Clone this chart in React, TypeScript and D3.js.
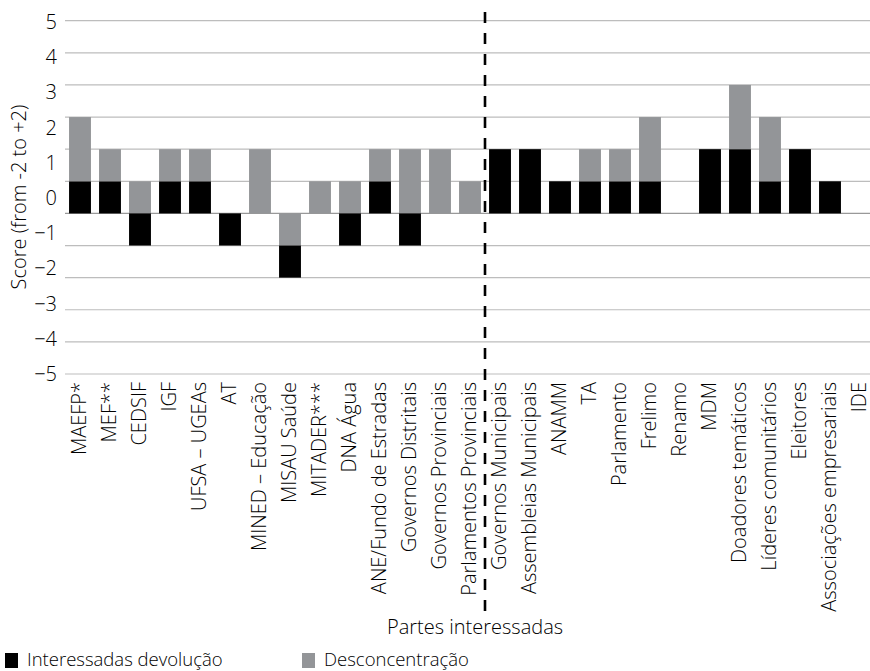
import { useEffect, useRef } from "react"
import * as d3 from "d3"

const categories = [
    "MAEFP*", "MEF**", "CEDSIF", "IGF", "UFSA – UGEAs", "AT", "MINED – Educação",
    "MISAU Saúde", "MITADER***", "DNA Água", "ANE/Fundo de Estradas", "Governos Distritais",
    "Governos Provinciais", "Parlamentos Provinciais", "Governos Municipais",
    "Assembleias Municipais", "ANAMM", "TA", "Parlamento", "Frelimo", "Renamo", "MDM",
    "Doadores temáticos", "Líderes comunitários", "Eleitores", "Associações empresariais", "IDE",
]
// Interessadas devolução (black)
const devolucao = [1, 1, -1, 1, 1, -1, 0, -1, 0, -1, 1, -1, 0, 0, 2, 2, 1, 1, 1, 1, 0, 2, 2, 1, 2, 1, 0]
// Desconcentração (grey)
const desconcentracao = [2, 1, 1, 1, 1, 0, 2, -1, 1, 1, 1, 2, 2, 1, 0, 0, 0, 1, 1, 2, 0, 0, 2, 2, 0, 0, 0]
const tickLabels = [5, 4, 3, 2, 1, 0, -1, -2, -3, -4, -5]
const gridValues = [6, 5, 4, 3, 2, 1, 0, -1, -2, -3, -4, -5]

const FONT = "'Open Sans', 'Noto Sans', sans-serif"
const FW = 300
const FS = 20
const TXT = "#000"
const GREY = "#939598"

export default function App() {
    const svgRef = useRef<SVGSVGElement>(null)
    const width = 870
    const height = 671

    useEffect(() => {
        const svg = d3.select(svgRef.current)
        svg.selectAll("*").remove()

        const x = d3.scaleBand<string>()
            .domain(categories)
            .range([65, 875])
            .paddingInner(0.27)
            .paddingOuter(0.135)

        // bars/gridlines
        const y = d3.scaleLinear().domain([-5, 6]).range([374, 20.7])
        // tick labels sit on their own spacing, as in the original
        const yLab = d3.scaleLinear().domain([-5, 5]).range([374, 22])

        const txt = (sel: any, size = FS) => sel
            .attr("font-family", FONT)
            .attr("font-weight", FW)
            .attr("font-size", size)
            .attr("fill", TXT)

        svg.append("g").selectAll("line")
            .data(gridValues)
            .join("line")
            .attr("x1", 65).attr("x2", 870)
            .attr("y1", d => y(d)).attr("y2", d => y(d))
            .attr("stroke", d => d === 0 ? "#999" : "#bdbdbd")
            .attr("stroke-width", 1.2)

        svg.append("g").selectAll("text")
            .data(tickLabels)
            .join("text")
            .attr("x", 57)
            .attr("y", d => yLab(d))
            .attr("dy", "0.35em")
            .attr("text-anchor", "end")
            .call(txt)
            .text(d => d < 0 ? `−${-d}` : `${d}`)

        // stacking: positives black then grey, negatives grey then black
        type Seg = { cat: string, y0: number, y1: number, color: string }
        const segs: Seg[] = []
        categories.forEach((c, i) => {
            let pos = 0
            let neg = 0
            const order: [number, string][] = [[devolucao[i], "#000"], [desconcentracao[i], GREY]]
            order.forEach(([v, col]) => {
                if (v > 0) { segs.push({ cat: c, y0: pos, y1: pos + v, color: col }); pos += v }
            })
            order.slice().reverse().forEach(([v, col]) => {
                if (v < 0) { segs.push({ cat: c, y0: neg, y1: neg + v, color: col }); neg += v }
            })
        })

        svg.append("g").selectAll("rect")
            .data(segs)
            .join("rect")
            .attr("x", d => x(d.cat)!)
            .attr("width", x.bandwidth())
            .attr("y", d => y(Math.max(d.y0, d.y1)))
            .attr("height", d => Math.abs(y(d.y0) - y(d.y1)))
            .attr("fill", d => d.color)

        // category labels
        svg.append("g").selectAll("text")
            .data(categories)
            .join("text")
            .attr("transform", d => `translate(${x(d)! + x.bandwidth() / 2},382) rotate(-90)`)
            .attr("dy", "0.3em")
            .attr("text-anchor", "end")
            .call(txt)
            .text(d => d)

        // dashed divider
        const divX = (x(categories[13])! + x.bandwidth() + x(categories[14])!) / 2
        svg.append("line")
            .attr("x1", divX).attr("x2", divX)
            .attr("y1", 12).attr("y2", 612)
            .attr("stroke", "#000")
            .attr("stroke-width", 2.6)
            .attr("stroke-dasharray", "11,10")

        svg.append("text")
            .attr("x", 475).attr("y", 634)
            .attr("text-anchor", "middle")
            .call(txt)
            .text("Partes interessadas")

        svg.append("text")
            .attr("transform", "translate(19,197) rotate(-90)")
            .attr("dy", "0.35em")
            .attr("text-anchor", "middle")
            .call(txt)
            .text("Score (from -2 to +2)")

        // legend
        const legend = [["Interessadas devolução", "#000", 5], ["Desconcentração", GREY, 302]] as const
        const lg = svg.append("g")
        legend.forEach(([label, col, lx]) => {
            lg.append("rect").attr("x", lx).attr("y", 653).attr("width", 13).attr("height", 15).attr("fill", col)
            lg.append("text")
                .attr("x", lx + 22).attr("y", 666)
                .call(txt, 18.5)
                .text(label)
        })
    }, [])

    return (
        <svg ref={svgRef} width={width} height={height}
            style={{ position: "absolute", left: 0, top: 0, background: "#fff" }}></svg>
    )
}
